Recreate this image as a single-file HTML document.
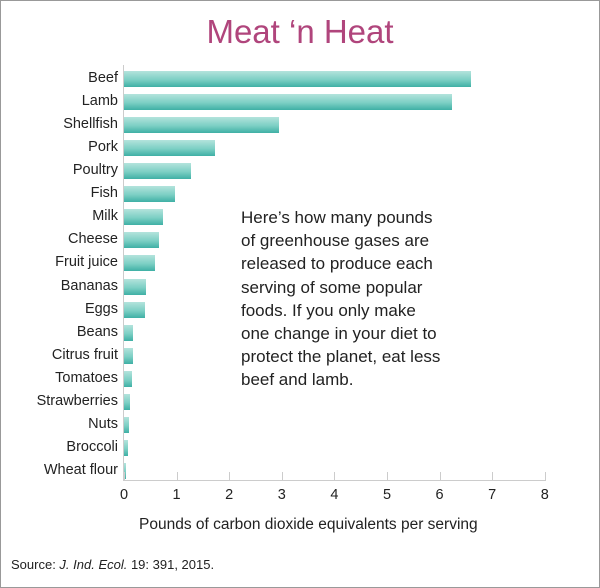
<!DOCTYPE html>
<html><head><style>
body{margin:0;background:#fff;}
#c{position:relative;width:598px;height:586px;border:1px solid #999;background:#fff;font-family:"Liberation Sans",sans-serif;color:#222;overflow:hidden;}
.t{position:absolute;left:0;width:598px;text-align:center;top:12px;font-size:33px;color:#b0457c;}
.l{position:absolute;right:481px;font-size:14.5px;text-align:right;white-space:nowrap;}
.b{position:absolute;left:123px;height:16px;background:linear-gradient(#b3e3dc,#7ccfc4 55%,#3fb0a5);}
.p{position:absolute;left:240px;top:205px;font-size:17px;line-height:23.2px;}
.k{position:absolute;top:486px;font-size:14.5px;width:20px;text-align:center;}
</style></head><body><div id="c">
<div class="t">Meat ‘n Heat</div>
<div style="position:absolute;left:122px;top:64px;width:1px;height:416px;background:#ccc"></div>
<div style="position:absolute;left:122px;top:479px;width:423px;height:1px;background:#ccc"></div>
<div id="bars"></div>
<div class="p">Here’s how many pounds<br>of greenhouse gases are<br>released to produce each<br>serving of some popular<br>foods. If you only make<br>one change in your diet to<br>protect the planet, eat less<br>beef and lamb.</div>
<div style="position:absolute;left:138px;top:515px;font-size:15.5px">Pounds of carbon dioxide equivalents per serving</div>
<div style="position:absolute;left:10px;top:556px;font-size:13px">Source: <i>J. Ind. Ecol.</i> 19: 391, 2015.</div>
</div>
<script>
var d=[["Beef",470],["Lamb",451],["Shellfish",278],["Pork",214],["Poultry",190],["Fish",174],["Milk",162],["Cheese",158],["Fruit juice",154],["Bananas",145],["Eggs",144],["Beans",132],["Citrus fruit",132],["Tomatoes",131],["Strawberries",129],["Nuts",128],["Broccoli",127],["Wheat flour",125]];
var c=document.getElementById('c'),h='';
d.forEach(function(r,i){var y=70+i*23.06;
h+='<div class="b" style="top:'+y+'px;width:'+(r[1]-123)+'px"></div>';
h+='<div class="l" style="top:'+(y-1)+'px">'+r[0]+'</div>';});
for(var k=0;k<=8;k++){var x=123+k*52.6;
h+='<div style="position:absolute;left:'+x+'px;top:471px;width:1px;height:9px;background:#ccc"></div>';
h+='<div class="k" style="left:'+(x-10)+'px">'+k+'</div>';}
c.insertAdjacentHTML('beforeend',h);
</script>
</body></html>
